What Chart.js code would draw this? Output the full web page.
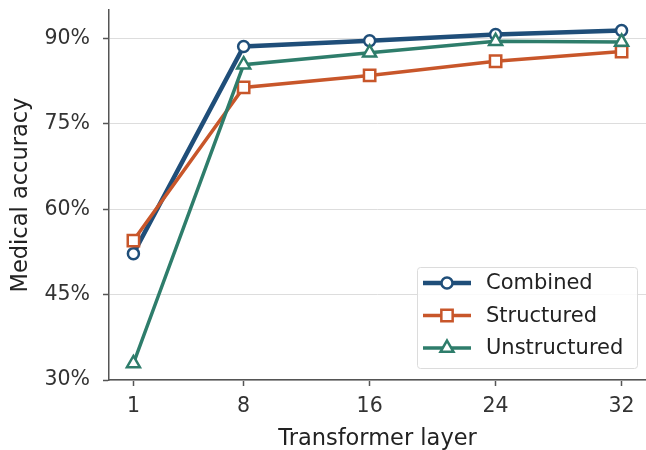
<!DOCTYPE html>
<html>
<head>
<meta charset="utf-8">
<script src="https://cdn.jsdelivr.net/npm/chart.js@4/dist/chart.umd.min.js"></script>
<style>
  html, body { margin: 0; padding: 0; background: #fff; }
  #wrap { width: 646px; height: 450px; }
</style>
</head>
<body>
<div id="wrap"><canvas id="myChart" width="646" height="450"></canvas></div>
<script>
var layers = [1, 8, 16, 24, 32];
var combined = [52.2, 88.6, 89.6, 90.7, 91.4];
var structured = [54.5, 81.4, 83.5, 86.0, 87.7];
var unstructured = [32.9, 85.4, 87.5, 89.5, 89.4];
var yTicks = [30, 45, 60, 75, 90];

var blue = "#1f4e79", orange = "#c8562a", green = "#2e7d6b";
var font = "'DejaVu Sans', sans-serif";

function pts(vals) {
    return vals.map(function (v, i) { return {x: layers[i], y: v}; });
}

// legend drawn inside the plot, lower right, matplotlib style
var boxLegend = {
    id: "boxLegend",
    afterDraw: function (chart) {
        var ctx = chart.ctx;
        var x0 = 417, y0 = 267, w = 220, h = 101;
        ctx.save();
        ctx.fillStyle = "rgba(255,255,255,0.85)";
        ctx.strokeStyle = "#dcdcdc";
        ctx.lineWidth = 1;
        ctx.beginPath();
        ctx.roundRect(x0 + 0.5, y0 + 0.5, w, h, 3);
        ctx.fill();
        ctx.stroke();
        chart.data.datasets.forEach(function (ds, i) {
            var cy = 283 + i * 32.5;
            ctx.strokeStyle = ds.borderColor;
            ctx.lineWidth = ds.borderWidth;
            ctx.beginPath();
            ctx.moveTo(423, cy);
            ctx.lineTo(471, cy);
            ctx.stroke();
            ctx.fillStyle = "#fff";
            ctx.strokeStyle = ds.borderColor;
            ctx.lineWidth = ds.pointBorderWidth;
            ctx.beginPath();
            if (ds.pointStyle === "circle") {
                ctx.arc(447, cy, ds.pointRadius, 0, Math.PI * 2);
            } else if (ds.pointStyle === "rect") {
                var s = ds.pointRadius * Math.SQRT1_2;
                ctx.rect(447 - s, cy - s, 2 * s, 2 * s);
            } else {
                var r = ds.pointRadius;
                ctx.moveTo(447, cy - r);
                ctx.lineTo(447 + r * Math.sin(Math.PI * 2 / 3), cy - r * Math.cos(Math.PI * 2 / 3));
                ctx.lineTo(447 + r * Math.sin(Math.PI * 4 / 3), cy - r * Math.cos(Math.PI * 4 / 3));
                ctx.closePath();
            }
            ctx.fill();
            ctx.stroke();
            ctx.fillStyle = "#222";
            ctx.font = "21px " + font;
            ctx.textBaseline = "middle";
            ctx.textAlign = "left";
            ctx.fillText(ds.label, 486, cy + 1);
        });
        ctx.restore();
    }
};

var myChart = document.getElementById("myChart").getContext("2d");

var chart = new Chart(myChart, {
    type: "line",
    data: {
        datasets: [
            { label: "Combined", data: pts(combined), borderColor: blue, backgroundColor: "#fff",
              borderWidth: 4.5, pointStyle: "circle", pointRadius: 5.5, pointBorderWidth: 2.5,
              pointBackgroundColor: "#fff", order: 3 },
            { label: "Structured", data: pts(structured), borderColor: orange, backgroundColor: "#fff",
              borderWidth: 3.5, pointStyle: "rect", pointRadius: 8, pointBorderWidth: 2.5,
              pointBackgroundColor: "#fff", order: 2 },
            { label: "Unstructured", data: pts(unstructured), borderColor: green, backgroundColor: "#fff",
              borderWidth: 3.5, pointStyle: "triangle", pointRadius: 7.5, pointBorderWidth: 2.5,
              pointBackgroundColor: "#fff", order: 1 }
        ]
    },
    options: {
        responsive: false,
        animation: false,
        clip: false,
        layout: { autoPadding: false, padding: { top: 10, right: 0, left: 0, bottom: 0 } },
        plugins: { legend: { display: false }, tooltip: { enabled: false } },
        scales: {
            x: {
                type: "linear",
                min: -0.55,
                max: 33.55,
                afterBuildTicks: function (s) { s.ticks = layers.map(function (v) { return {value: v}; }); },
                afterFit: function (s) { s.height = 70; s.paddingLeft = 0; s.paddingRight = 0; },
                grid: { drawOnChartArea: false, drawTicks: true, tickLength: 6, tickColor: "#555", tickWidth: 1.5 },
                border: { color: "#555", width: 1.5 },
                ticks: { color: "#333", font: { family: font, size: 20.5 }, padding: 8 },
                title: { display: true, text: "Transformer layer", color: "#222",
                         font: { family: font, size: 22.5 }, padding: { top: 0, bottom: -3 } }
            },
            y: {
                min: 30,
                max: 95,
                afterBuildTicks: function (s) { s.ticks = yTicks.map(function (v) { return {value: v}; }); },
                afterFit: function (s) { s.width = 109; s.paddingTop = 0; s.paddingBottom = 0; },
                grid: { color: "#dddddd", lineWidth: 1, drawTicks: true, tickLength: 6, tickColor: "#555", tickWidth: 1.5 },
                border: { color: "#555", width: 1.5 },
                ticks: { color: "#333", font: { family: font, size: 20.5 }, padding: 13,
                         callback: function (v) { return v + "%"; } },
                title: { display: true, text: "Medical accuracy", color: "#222",
                         font: { family: font, size: 22.5 }, padding: { top: 8, bottom: 0 } }
            }
        }
    },
    plugins: [boxLegend]
});
</script>
</body>
</html>
